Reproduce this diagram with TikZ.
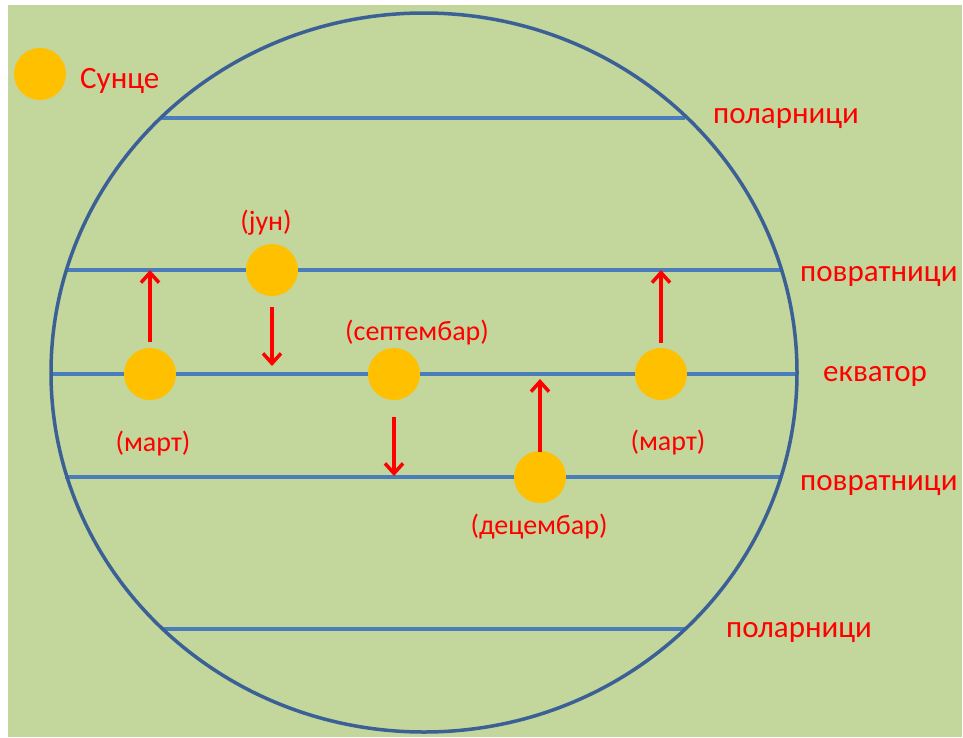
\documentclass[tikz,border=0pt]{standalone}
\usepackage{fontspec}
\setmainfont{Carlito}
\usetikzlibrary{arrows.meta}
\definecolor{bg}{HTML}{C3D69B}
\definecolor{rim}{HTML}{3B6095}
\definecolor{lat}{HTML}{4A7EBB}
\definecolor{sun}{HTML}{FFC000}
\definecolor{lbl}{HTML}{FF0000}
\tikzset{
  sunbody/.style={circle,fill=sun,minimum size=52pt,inner sep=0pt},
  latline/.style={lat,line width=3.5pt},
  rimline/.style={rim,line width=3.5pt},
  move/.style={lbl,line width=3.5pt,-{Straight Barb[length=10pt,width=18pt]}},
  biglbl/.style={text=lbl,font=\fontsize{31}{36}\selectfont,inner sep=0pt},
  monthlbl/.style={text=lbl,font=\fontsize{28}{33}\selectfont,inner sep=0pt}
}
\begin{document}
\begin{tikzpicture}[x=1pt,y=-1pt]
\useasboundingbox (0,0) rectangle (963,737);
\fill[white] (0,0) rectangle (963,737);
\fill[bg] (8,5) rectangle (962,737);
% latitude lines
\draw[latline] (162,118) -- (685,118);
\draw[latline] (65,270) -- (781,270);
\draw[latline] (51,374) -- (796,374);
\draw[latline] (65,477) -- (781,477);
\draw[latline] (162,629) -- (685,629);
% globe outline
\draw[rimline] (424,372.5) ellipse [x radius=373, y radius=359.5];
% legend
\node[sunbody] (leg) at (40,74) {};
\node[biglbl,anchor=base west] (legt) at (80,88) {Сунце};
% labels on right
\node[biglbl,anchor=base west] (pol1) at (713,123) {поларници};
\node[biglbl,anchor=base west] (pov1) at (800,281) {повратници};
\node[biglbl,anchor=base west] (ekv) at (823,381) {екватор};
\node[biglbl,anchor=base west] (pov2) at (800,490) {повратници};
\node[biglbl,anchor=base west] (pol2) at (726,637) {поларници};
% suns
\node[sunbody] (mar1) at (150,374) {};
\node[sunbody] (jun) at (272,270) {};
\node[sunbody] (sep) at (394,374) {};
\node[sunbody] (dec) at (540,477) {};
\node[sunbody] (mar2) at (661,374) {};
% month labels
\node[monthlbl] (lmar1) at (153,444) {(март)};
\node[monthlbl] (ljun) at (266,223) {(јун)};
\node[monthlbl] (lsep) at (417,333) {(септембар)};
\node[monthlbl] (ldec) at (539,527) {(децембар)};
\node[monthlbl] (lmar2) at (668,443) {(март)};
% arrow ends
\coordinate (a1s) at (150,342); \coordinate (a1e) at (150,270);
\coordinate (a2s) at (272,307); \coordinate (a2e) at (272,366);
\coordinate (a3s) at (394,417); \coordinate (a3e) at (394,476);
\coordinate (a4s) at (540,452); \coordinate (a4e) at (540,379);
\coordinate (a5s) at (661,343); \coordinate (a5e) at (661,270);
\draw[move] (a1s) -- (a1e);
\draw[move] (a2s) -- (a2e);
\draw[move] (a3s) -- (a3e);
\draw[move] (a4s) -- (a4e);
\draw[move] (a5s) -- (a5e);
\end{tikzpicture}
\end{document}
